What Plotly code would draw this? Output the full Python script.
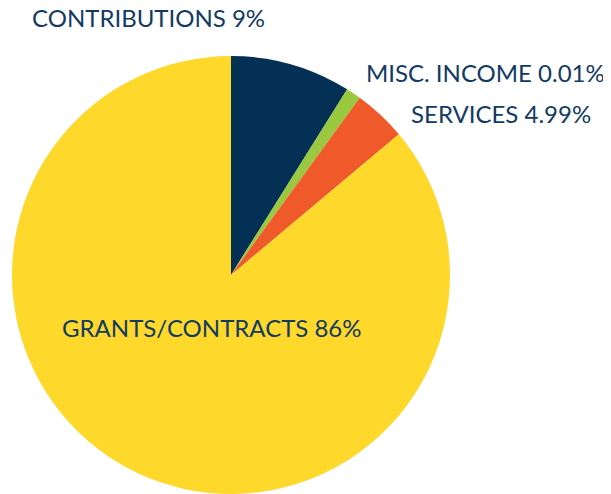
import plotly.graph_objects as go

categories = ["CONTRIBUTIONS", "MISC. INCOME", "SERVICES", "GRANTS/CONTRACTS"]
values = [8.9, 1.1, 3.9, 86.1]
label_texts = ["CONTRIBUTIONS 9%", "MISC. INCOME 0.01%", "SERVICES 4.99%", "GRANTS/CONTRACTS 86%"]
colors = ["#033054", "#9AC83F", "#F05A2A", "#FED82A"]

W, H = 611, 494
OFF = 8  # page body margin
cx, top, r = 231 - OFF, 56 - OFF, 219
fig = go.Figure(go.Pie(
    labels=categories, values=values, sort=False, direction="clockwise",
    rotation=0, textinfo="none", hoverinfo="label+percent",
    marker=dict(colors=colors, line=dict(width=0)),
    domain=dict(x=[(cx - r) / W, (cx + r) / W], y=[1 - (top + 2 * r) / H, 1 - top / H]),
    showlegend=False,
))

# label positions (pixel left x, center y) in the final picture
label_pos = [(33, 18), (367, 72), (412, 113), (63, 327)]
for txt, (px, py) in zip(label_texts, label_pos):
    fig.add_annotation(text=txt, x=(px - OFF - 3) / W, y=1 - (py - OFF) / H,
                       xref="paper", yref="paper",
                       xanchor="left", yanchor="middle", showarrow=False,
                       font=dict(family="Lato", size=24, color="#123A63"))

fig.update_layout(width=W, height=H, margin=dict(l=0, r=0, t=0, b=0),
                  paper_bgcolor="white", plot_bgcolor="white")
fig.write_html("out.html")
